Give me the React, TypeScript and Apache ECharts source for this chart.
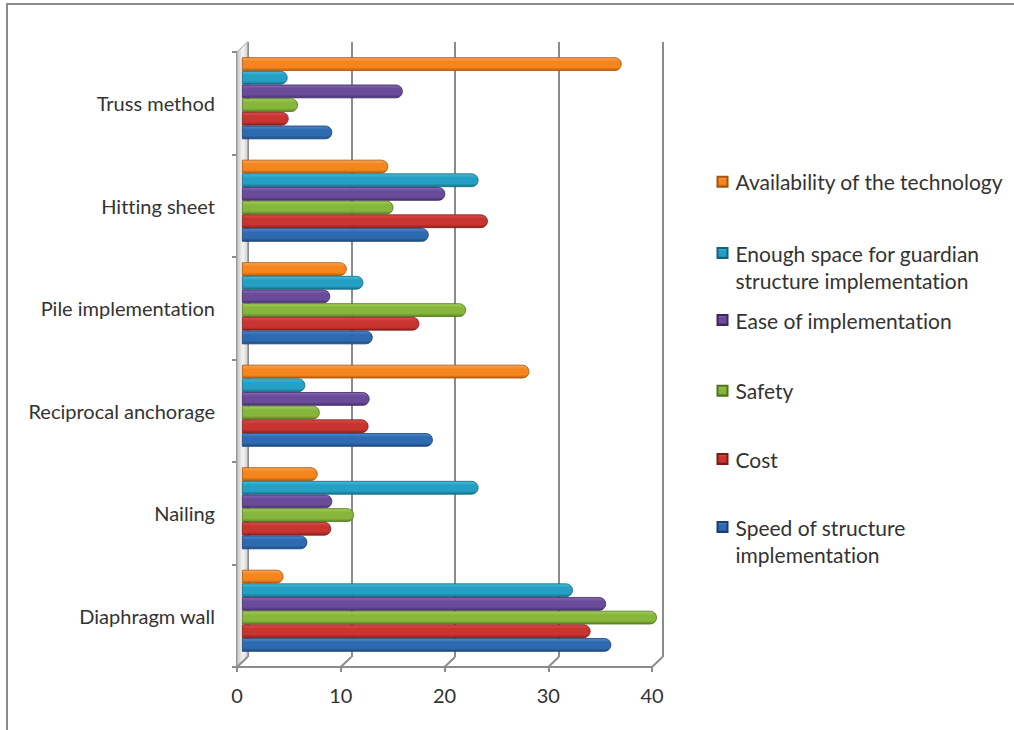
import { useEffect, useRef } from 'react';
import * as echarts from 'echarts';

// Categories, bottom to top
const CATEGORIES = [
  'Diaphragm wall',
  'Nailing',
  'Reciprocal anchorage',
  'Pile implementation',
  'Hitting sheet',
  'Truss method',
];

// Scores per criterion, in CATEGORIES order
const SPEED = [35.6, 6.3, 18.4, 12.6, 18.0, 8.7];
const COST = [33.6, 8.6, 12.2, 17.1, 23.7, 4.5];
const SAFETY = [40.0, 10.8, 7.5, 21.6, 14.6, 5.4];
const EASE = [35.1, 8.7, 12.3, 8.5, 19.6, 15.5];
const SPACE = [31.9, 22.8, 6.1, 11.7, 22.8, 4.4];
const AVAILABILITY = [4.0, 7.3, 27.7, 10.1, 14.1, 36.6];

const X_TICKS = [0, 10, 20, 30, 40];

const SERIES_NAMES = {
  speed: 'Speed of structure implementation',
  cost: 'Cost',
  safety: 'Safety',
  ease: 'Ease of implementation',
  space: 'Enough space for guardian structure implementation',
  availability: 'Availability of the technology',
};

// Legend wrapping for the long names
const LEGEND_BREAKS: Record<string, string[]> = {
  [SERIES_NAMES.space]: ['Enough space for guardian', 'structure implementation'],
  [SERIES_NAMES.speed]: ['Speed of structure', 'implementation'],
};

const FONT = 'Lato';
const TEXT_COLOR = '#333333';
const FRAME_COLOR = '#8c8c8c';
// 3D depth offset from the back wall to the front edge
const DX = -10.5;
const DY = 10;

type Shade = { top: string; mid: string; bottom: string; edge: string };

const SHADES: Record<string, Shade> = {
  speed: { top: '#4a88cc', mid: '#2e6ab0', bottom: '#1d4a82', edge: '#1a3f6e' },
  cost: { top: '#dc5048', mid: '#c83430', bottom: '#8e201e', edge: '#7a1b19' },
  safety: { top: '#a6cf5a', mid: '#86b63b', bottom: '#5c8824', edge: '#4f741f' },
  ease: { top: '#8868b6', mid: '#6a4b9a', bottom: '#48306e', edge: '#3c285c' },
  space: { top: '#45bddc', mid: '#24a0c4', bottom: '#177590', edge: '#13647b' },
  availability: { top: '#fba556', mid: '#f5861e', bottom: '#bd5f0d', edge: '#a6530b' },
};

function barStyle(s: Shade) {
  return {
    color: new echarts.graphic.LinearGradient(0, 0, 0, 1, [
      { offset: 0, color: s.top },
      { offset: 0.3, color: s.mid },
      { offset: 0.75, color: s.mid },
      { offset: 1, color: s.bottom },
    ]),
    borderColor: s.edge,
    borderWidth: 0.8,
    borderRadius: [0, 7, 7, 0],
  };
}

// Series listed top of group first
const SERIES_ORDER: { key: keyof typeof SERIES_NAMES; data: number[] }[] = [
  { key: 'availability', data: AVAILABILITY },
  { key: 'space', data: SPACE },
  { key: 'ease', data: EASE },
  { key: 'safety', data: SAFETY },
  { key: 'cost', data: COST },
  { key: 'speed', data: SPEED },
];

// First-line centre of each legend entry, top to bottom
const LEGEND_Y = [181.7, 253, 320, 390.7, 459, 527];
const LEGEND_LINE_HEIGHT = 27;

export default function App() {
  const ref = useRef<HTMLDivElement>(null);

  useEffect(() => {
    document.body.style.margin = '0';
    const chart = echarts.init(ref.current!, null, { renderer: 'svg' });

    const legends = SERIES_ORDER.map((s, i) => {
      const name = SERIES_NAMES[s.key];
      const lines = LEGEND_BREAKS[name] ?? [name];
      const total = lines.length > 1 ? lines.length + 1 : 1;
      return {
        data: [name],
        orient: 'vertical',
        left: 716.5,
        top: LEGEND_Y[i] - (total * LEGEND_LINE_HEIGHT) / 2,
        icon: 'rect',
        itemWidth: 10,
        itemHeight: 10,
        padding: 0,
        selectedMode: false,
        formatter: (n: string) => {
          const ls = LEGEND_BREAKS[n] ?? [n];
          return ls.length > 1 ? ['', ...ls].join('\n') : ls[0];
        },
        textStyle: {
          fontFamily: FONT,
          fontSize: 21,
          color: TEXT_COLOR,
          lineHeight: LEGEND_LINE_HEIGHT,
          padding: [0, 0, 0, 3],
        },
      };
    });

    const option: any = {
      animation: false,
      backgroundColor: '#ffffff',
      textStyle: { fontFamily: FONT },
      graphic: [
        {
          type: 'line',
          shape: { x1: 6, y1: 4, x2: 1014, y2: 4 },
          style: { stroke: FRAME_COLOR, lineWidth: 2 },
        },
        {
          type: 'line',
          shape: { x1: 7, y1: 4, x2: 7, y2: 730 },
          style: { stroke: FRAME_COLOR, lineWidth: 2 },
        },
      ],
      legend: legends,
      grid: [
        // back wall
        { left: 247.5, top: 42, width: 415, height: 615 },
        // front edge (axes and labels)
        { left: 237, top: 52, width: 415, height: 615 },
        // bars, halfway in depth
        { left: 242, top: 47, width: 415, height: 615 },
      ],
      xAxis: [
        {
          gridIndex: 0,
          type: 'value',
          min: 0,
          max: 40,
          interval: 10,
          axisLine: { show: false },
          axisTick: { show: false },
          axisLabel: { show: false },
          splitLine: { show: true, lineStyle: { color: FRAME_COLOR, width: 2 } },
        },
        {
          gridIndex: 1,
          type: 'value',
          min: 0,
          max: 40,
          interval: 10,
          axisLine: { show: true, lineStyle: { color: FRAME_COLOR, width: 2 } },
          axisTick: { show: true, length: 5, lineStyle: { color: FRAME_COLOR, width: 2 } },
          axisLabel: {
            margin: 18,
            fontFamily: FONT,
            fontSize: 20,
            color: TEXT_COLOR,
          },
          splitLine: { show: false },
        },
        {
          gridIndex: 2,
          type: 'value',
          min: 0,
          max: 40,
          show: false,
          splitLine: { show: false },
        },
      ],
      yAxis: [
        { gridIndex: 0, type: 'value', min: 0, max: 1, show: false, splitLine: { show: false } },
        {
          gridIndex: 1,
          type: 'category',
          data: CATEGORIES,
          axisLine: { show: true, lineStyle: { color: FRAME_COLOR, width: 2 } },
          axisTick: { show: true, length: 5, lineStyle: { color: FRAME_COLOR, width: 2 } },
          axisLabel: {
            margin: 22,
            fontFamily: FONT,
            fontSize: 20,
            color: TEXT_COLOR,
          },
        },
        { gridIndex: 2, type: 'category', data: CATEGORIES, show: false },
      ],
      series: [
        // left side wall
        {
          type: 'custom',
          xAxisIndex: 0,
          yAxisIndex: 0,
          data: [[0, 0]],
          silent: true,
          clip: false,
          z: 1,
          renderItem: (_p: any, api: any) => {
            const top = api.coord([0, 1]);
            const bottom = api.coord([0, 0]);
            return {
              type: 'polygon',
              shape: {
                points: [
                  top,
                  bottom,
                  [bottom[0] + DX, bottom[1] + DY],
                  [top[0] + DX, top[1] + DY],
                ],
              },
              style: {
                fill: new echarts.graphic.LinearGradient(0, 0, 1, 0, [
                  { offset: 0, color: '#c4c4c4' },
                  { offset: 0.55, color: '#f4f4f4' },
                  { offset: 1, color: '#d2d2d2' },
                ]),
                stroke: '#a6a6a6',
                lineWidth: 1,
              },
            };
          },
        },
        // floor edges running from the back wall to the front axis
        {
          type: 'custom',
          xAxisIndex: 0,
          yAxisIndex: 0,
          data: X_TICKS.map((v) => [v, 0]),
          silent: true,
          clip: false,
          z: 1,
          renderItem: (_p: any, api: any) => {
            const p = api.coord([api.value(0), 0]);
            return {
              type: 'line',
              shape: { x1: p[0], y1: p[1], x2: p[0] + DX, y2: p[1] + DY },
              style: { stroke: FRAME_COLOR, lineWidth: 2 },
            };
          },
        },
        ...SERIES_ORDER.map((s) => ({
          name: SERIES_NAMES[s.key],
          type: 'bar',
          xAxisIndex: 2,
          yAxisIndex: 2,
          data: s.data,
          barGap: '0%',
          barCategoryGap: '20%',
          itemStyle: barStyle(SHADES[s.key]),
          z: 3,
        })),
      ],
    };

    chart.setOption(option);
    return () => {
      chart.dispose();
    };
  }, []);

  return (
    <div
      ref={ref}
      style={{
        width: 1014,
        height: 730,
        fontFeatureSettings: '"liga" 0, "clig" 0',
        fontVariantLigatures: 'none',
      }}
    />
  );
}
